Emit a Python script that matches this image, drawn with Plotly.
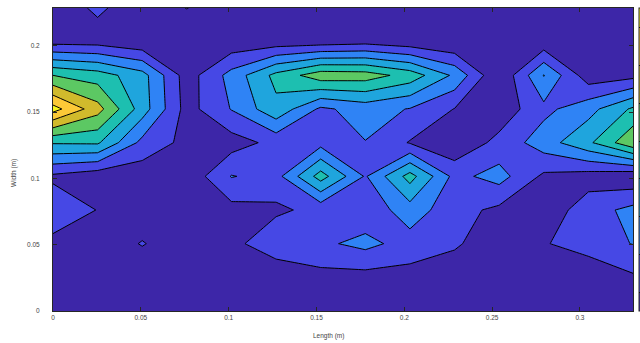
import plotly.graph_objects as go

# grid positions (m): 1-inch spacing
length_m = [0.0, 0.0254, 0.0508, 0.0762, 0.1016, 0.1270, 0.1524, 0.1778,
            0.2032, 0.2286, 0.2540, 0.2794, 0.3048, 0.3302]
width_m = [0.0, 0.0254, 0.0508, 0.0762, 0.1016, 0.1270, 0.1524, 0.1778,
           0.2032, 0.2286]

# field values, one list per width row (bottom to top)
row0 = [0.2, 0.2, 0.3, 0.3, 0.3, 0.3, 0.3, 0.3, 0.3, 0.3, 0.2, 0.2, 0.2, 0.3]
row1 = [0.3, 0.3, 0.4, 0.3, 0.3, 0.1, 0.67, 0.63, 0.62, 0.57, 0.3, 0.3, 0.0, 0.86]
row2 = [0.7, 0.5, 1.05, 0.5, 0.67, 1.76, 1.8, 2.3, 1.57, 1.1, 0.55, 0.9, 1.6, 2.03]
row3 = [1.7, 0.97, 0.5, 0.4, 0.65, 0.81, 1.3, 1.3, 2.55, 1.37, 0.77, 0.33, 1.55, 2.3]
row4 = [0.8, 0.34, 0.38, 0.27, 2.05, 1.63, 4.45, 1.9, 4.4, 1.7, 2.4, 0.8, 0.53, 0.2]
row5 = [4.1, 4.14, 1.7, 0.7, 0.55, 1.3, 1.63, 1.97, 0.93, 0.2, 1.3, 2.53, 3.8, 5.8]
row6 = [8.4, 6.4, 3.5, 0.6, 2.05, 3.73, 1.81, 2.4, 1.95, 0.97, 0.36, 1.72, 2.63, 4.17]
row7 = [5.0, 4.5, 3.4, 0.5, 2.37, 4.3, 5.6, 5.5, 4.6, 2.8, 0.05, 3.04, 0.4, 0.67]
row8 = [0.67, 0.61, 0.2, 0.3, 0.3, 0.42, 0.5, 0.67, 0.36, 0.05, 0.1, 0.33, 0.1, 0.2]
row9 = [0.5, 1.15, 0.5, 1.02, 0.5, 0.4, 0.4, 0.4, 0.4, 0.4, 0.3, 0.2, 0.3, 0.3]

x_ticks = [0, 0.05, 0.1, 0.15, 0.2, 0.25, 0.3]
x_ticklabels = ["0", "0.05", "0.1", "0.15", "0.2", "0.25", "0.3"]
y_ticks = [0, 0.05, 0.1, 0.15, 0.2]
y_ticklabels = ["0", "0.05", "0.1", "0.15", "0.2"]

band_colors = ["#3d26a8", "#4648e5", "#2f83f5", "#1fa5dd", "#1dbfb0",
               "#5cc863", "#d1ba2c", "#fcc937", "#f8f51b"]

z = [row0, row1, row2, row3, row4, row5, row6, row7, row8, row9]
n = len(band_colors) - 1
colorscale = [[k / n, c] for k, c in enumerate(band_colors)]

fig = go.Figure()
fig.add_trace(go.Contour(
    x=length_m, y=width_m, z=z,
    contours=dict(start=1, end=8, size=1, coloring="fill", showlines=True),
    line=dict(color="black", width=1, smoothing=0),
    colorscale=colorscale,
    showscale=True,
    colorbar=dict(x=1.0095, xanchor="left", xpad=0, ypad=0, thickness=14,
                  len=1.0, lenmode="fraction", y=0.5, yanchor="middle",
                  outlinecolor="#262626", outlinewidth=1,
                  showticklabels=False, ticks=""),
    hoverinfo="skip",
))

font = dict(family="Liberation Sans, Arial, sans-serif", size=6.5,
            color="#444444")

axis_common = dict(
    showgrid=False, zeroline=False, showline=True, linecolor="#262626",
    linewidth=1, mirror="ticks", ticks="inside", ticklen=4,
    tickcolor="#262626", tickwidth=1, tickfont=font,
)

fig.update_layout(
    width=640, height=343,
    margin=dict(l=53, r=7, t=8, b=32, autoexpand=False),
    paper_bgcolor="white", plot_bgcolor="white",
    xaxis=dict(range=[0, 0.3302], tickvals=x_ticks, ticktext=x_ticklabels,
               ticklabelstandoff=0, **axis_common),
    yaxis=dict(range=[0, 0.2286], tickvals=y_ticks, ticktext=y_ticklabels,
               ticklabelstandoff=11, **axis_common),
    showlegend=False,
    annotations=[
        dict(text="Length (m)", xref="paper", yref="paper",
             x=(328 - 53) / 580, y=-(336 - 311) / 303, showarrow=False,
             xanchor="center", yanchor="middle", font=font),
        dict(text="Width (m)", xref="paper", yref="paper",
             x=-(53 - 14) / 580, y=(311 - 173) / 303, showarrow=False,
             textangle=-90, xanchor="center", yanchor="middle", font=font),
    ],
)

fig.write_html("out.html", config={"displayModeBar": False, "staticPlot": True})

# remove the default page margin so the figure sits at the window's corner
with open("out.html", "r", encoding="utf-8") as f:
    html = f.read()
html = html.replace("<head>", "<head><style>html,body{margin:0;padding:0;overflow:hidden}</style>", 1)
with open("out.html", "w", encoding="utf-8") as f:
    f.write(html)
